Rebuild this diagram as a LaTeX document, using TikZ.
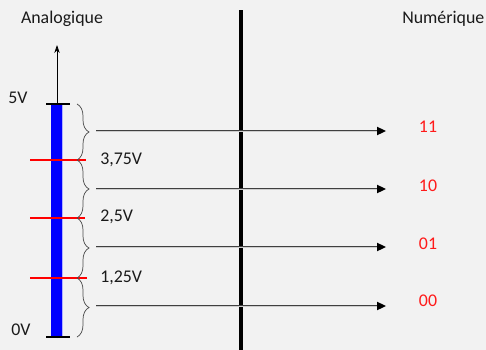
\documentclass[tikz,border=0pt]{standalone}
\usepackage{fontspec}
\setmainfont{Carlito}
\usetikzlibrary{arrows.meta,decorations.pathreplacing,calc}
\definecolor{bg}{HTML}{F2F2F2}
\definecolor{codered}{HTML}{FF1A1A}
\definecolor{txtcol}{HTML}{1A1A1A}
\begin{document}
\begin{tikzpicture}[x=0.75pt,y=-0.75pt,
  txt/.style={font=\fontsize{13.4}{16}\selectfont, inner sep=0pt, text=txtcol},
  code/.style={txt, text=codered},
  redline/.style={draw=red, line width=1.3pt},
  tick/.style={draw=black, line width=1.6pt},
  bracestyle/.style={draw=black!70, line width=0.55pt, decorate,
     decoration={brace, amplitude=9pt, raise=0pt}},
  dbl/.style={draw=black!75, double=bg!85!black, double distance=0.6pt, line width=0.75pt},
  head/.style={fill=black, draw=none}
]
\fill[bg] (0,0) rectangle (486,350);
\useasboundingbox (0,0) rectangle (486,350);

% titles
\node[txt] (analog) at (62,19) {Analogique};
\node[txt, anchor=west] (numer) at (402,19) {Numérique};

% separator
\coordinate (septop) at (241,10);
\coordinate (sepbot) at (241,350);
\draw[line width=2.4pt] (septop) -- (sepbot);

% axis
\coordinate (axbot) at (57,338);
\coordinate (axtop) at (57,45);
\draw[line width=0.5pt, -{Stealth[length=6pt,width=4pt]}] (axbot) -- (axtop);

% blue bar
\fill[blue] (51,104) rectangle (62,337);
\draw[blue!30, line width=0.5pt] (62.5,104) -- (62.5,337);

% ticks
\draw[tick] (46,104) -- (70,104);
\draw[tick] (46,337) -- (70,337);

% red lines
\draw[redline] (30,160) -- (86,160);
\draw[redline] (30,218) -- (85,218);
\draw[redline] (30,278) -- (87,278);

% voltage labels
\node[txt] (v5) at (18,98) {5V};
\node[txt] (v0) at (21,330) {0V};
\node[txt, anchor=west] (v375) at (100,160) {3,75V};
\node[txt, anchor=west] (v25) at (100,217) {2,5V};
\node[txt, anchor=west] (v125) at (100,278) {1,25V};

% braces
\draw[bracestyle] (77,104) -- (77,160);
\draw[bracestyle] (77,160) -- (77,218);
\draw[bracestyle] (77,218) -- (77,278);
\draw[bracestyle] (77,278) -- (77,337);

% arrows
\foreach \y/\n in {131/a,189/b,247/c,306/d}{
  \coordinate (s\n) at (96,\y);
  \coordinate (e\n) at (377,\y);
  \coordinate (t\n) at (386,\y);
  \draw[dbl] (s\n) -- (e\n);
  \fill[head] (t\n) -- ($(e\n)+(0,-4.3)$) -- ($(e\n)+(0,4.3)$) -- cycle;
}

% codes
\node[code] (c11) at (428,127) {11};
\node[code] (c10) at (428,186) {10};
\node[code] (c01) at (428,244) {01};
\node[code] (c00) at (428,301) {00};
\end{tikzpicture}
\end{document}
